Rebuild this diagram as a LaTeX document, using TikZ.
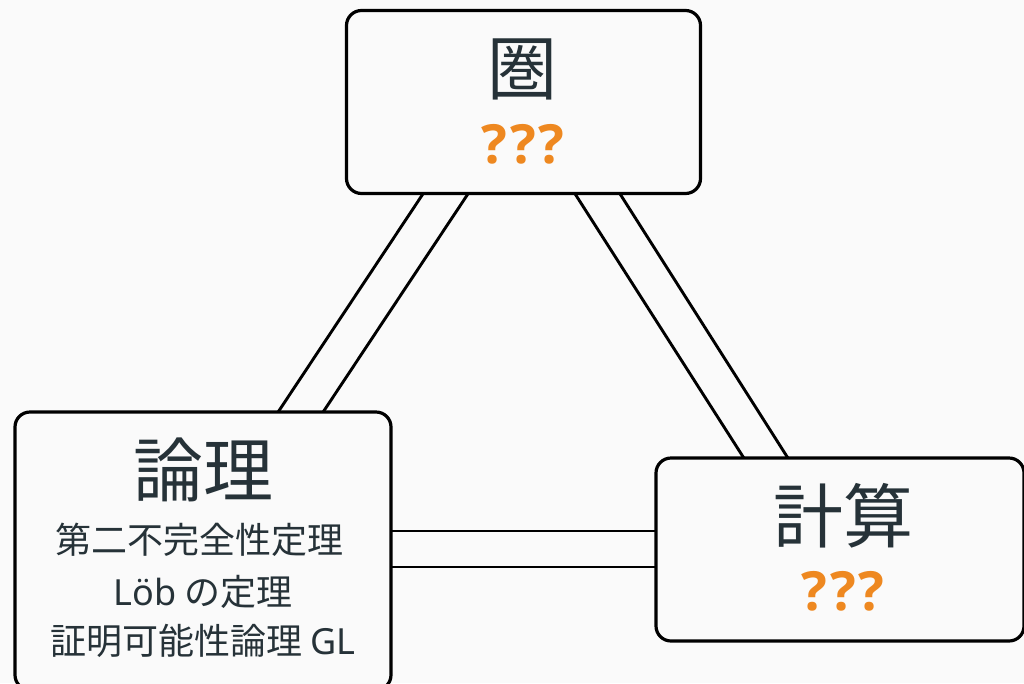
\documentclass[tikz,border=0pt]{standalone}
\usepackage{fontspec}
\setmainfont{Noto Sans CJK JP}
\newfontfamily\latinf{Noto Sans}
\newfontfamily\qfont{Open Sans}
\usetikzlibrary{backgrounds,calc}
\definecolor{bgc}{HTML}{FAFAFA}
\definecolor{ink}{HTML}{263238}
\definecolor{qorange}{HTML}{EE8820}
\newcommand{\qmarks}{?\kern3pt?\kern3pt?}
\begin{document}
\begin{tikzpicture}[x=1pt,y=-1pt,
  box/.style={draw=black, line width=3.2pt, rounded corners=15pt, fill=bgc, inner sep=0pt},
  link/.style={line width=2.9pt, draw=black},
  titletext/.style={text=ink, font=\fontsize{70}{80}\selectfont, inner sep=0pt},
  qq/.style={text=qorange, font=\qfont\bfseries\fontsize{54}{60}\selectfont, inner sep=0pt},
  subtext/.style={text=ink, font=\fontsize{36}{40}\selectfont, inner sep=0pt}]
\useasboundingbox (0,0) rectangle (1024,683);
% boxes
\node[box, minimum width=354pt, minimum height=183pt] (cat) at (523.5,102) {};
\node[box, minimum width=376pt, minimum height=278pt] (logic) at (203,551) {};
\node[box, minimum width=368pt, minimum height=183pt] (comp) at (840,549.5) {};
% texts
\node[titletext] (catT) at (522,69) {圏};
\node[qq] (catQ) at (523,144) {\qmarks};
\node[titletext] (logT) at (203,470) {論理};
\node[subtext] (l1) at (199,540) {第二不完全性定理};
\node[subtext] (l2) at (203,592) {{\latinf Löb} の定理};
\node[subtext] (l3) at (203,641) {証明可能性論理 {\latinf GL}};
\node[titletext] (compT) at (843,516) {計算};
\node[qq] (compQ) at (843,591) {\qmarks};
% connectors (behind the boxes)
\begin{pgfonlayer}{background}
\fill[bgc] (0,0) rectangle (1024,683);
\draw[link] ($(cat.south)+(-88.4,-19.5)$) -- ($(logic.north)+(62.9,20)$);
\draw[link] ($(cat.south)+(-43.4,-19.5)$) -- ($(logic.north)+(107.9,20)$);
\draw[link] ($(cat.south)+(39.9,-19.5)$) -- ($(comp.north)+(-84.4,20)$);
\draw[link] ($(cat.south)+(84.9,-19.5)$) -- ($(comp.north)+(-40.4,20)$);
\draw[link] ($(logic.east)+(-20,-20)$) -- ($(comp.west)+(20,-18.5)$);
\draw[link] ($(logic.east)+(-20,16)$) -- ($(comp.west)+(20,17.5)$);
\end{pgfonlayer}
\end{tikzpicture}
\end{document}
